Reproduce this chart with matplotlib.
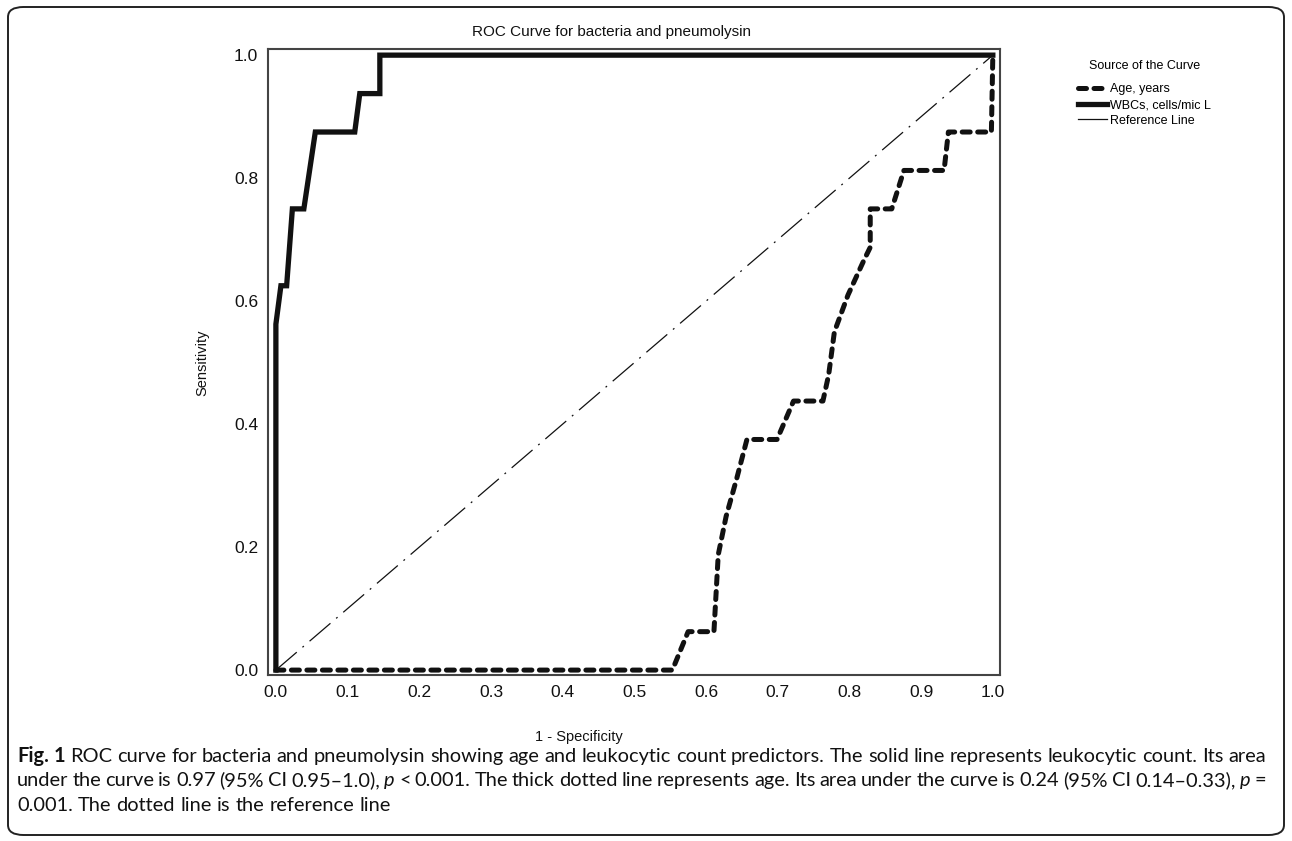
import matplotlib
matplotlib.use("Agg")
import matplotlib.pyplot as plt
from matplotlib.lines import Line2D
from matplotlib.patches import FancyBboxPatch

plt.rcParams['font.family'] = ['Liberation Sans', 'DejaVu Sans']

# WBC curve (1 - specificity, sensitivity)
wbc_x = [0.0, 0.0, 0.007, 0.015, 0.023, 0.039, 0.055, 0.110, 0.117, 0.145, 0.145, 1.0]
wbc_y = [0.0, 0.5625, 0.625, 0.625, 0.75, 0.75, 0.875, 0.875, 0.9375, 0.9375, 1.0, 1.0]

# Age curve
age_x = [0.0, 0.553, 0.575, 0.611, 0.617, 0.628, 0.643, 0.657, 0.699, 0.722, 0.763,
         0.771, 0.779, 0.798, 0.820, 0.829, 0.829, 0.859, 0.876, 0.932, 0.938, 0.998, 1.0]
age_y = [0.0, 0.0, 0.0625, 0.0625, 0.1875, 0.25, 0.3125, 0.375, 0.375, 0.4375, 0.4375,
         0.48, 0.55, 0.61, 0.666, 0.6875, 0.75, 0.75, 0.8125, 0.8125, 0.875, 0.875, 1.0]

ref_x = [0.0, 1.0]
ref_y = [0.0, 1.0]

ticks = [0.0, 0.1, 0.2, 0.3, 0.4, 0.5, 0.6, 0.7, 0.8, 0.9, 1.0]
yticks = [0.0, 0.2, 0.4, 0.6, 0.8, 1.0]

W, H = 1292, 841
fig = plt.figure(figsize=(W / 100, H / 100), dpi=100)

# rounded border round the whole figure
border = FancyBboxPatch((8 / W, 6 / H), 1 - 16 / W, 1 - 13 / H,
                        boxstyle="round,pad=0,rounding_size=0.012",
                        transform=fig.transFigure, fill=False,
                        ec='#222222', lw=1.4)
fig.patches.append(border)

left, right, top, bottom = 268, 1000, 49, 675
ax = fig.add_axes([left / W, 1 - bottom / H, (right - left) / W, (bottom - top) / H])

ax.plot(ref_x, ref_y, color='#111111', lw=0.9, ls=(0, (22, 6, 1.5, 6)))
ax.plot(age_x, age_y, color='#111111', lw=3.6, ls=(0, (1.6, 1.5)),
        dash_capstyle='round', solid_joinstyle='round')
ax.plot(wbc_x, wbc_y, color='#111111', lw=3.8, solid_joinstyle='miter')

ax.set_xlim(-0.011, 1.01)
ax.set_ylim(-0.008, 1.01)
ax.set_xticks(ticks)
ax.set_yticks(yticks)
ax.set_xticklabels([f"{t:.1f}" for t in ticks])
ax.set_yticklabels([f"{t:.1f}" for t in yticks])
ax.tick_params(length=0, labelsize=12.5, pad=7, colors='#111111')
for s in ax.spines.values():
    s.set_color('#444444')
    s.set_linewidth(1.5)

fig.text(579 / W, 1 - 737 / H, "1 - Specificity", ha='center', va='center',
         fontsize=10.5, color='#111111')
fig.text(202 / W, 1 - 363 / H, "Sensitivity", ha='center', va='center',
         rotation=90, fontsize=10.5, color='#111111')
fig.text(612 / W, 1 - 32 / H, "ROC Curve for bacteria and pneumolysin",
         ha='center', va='center', fontsize=11, color='#111111')

handles = [
    Line2D([], [], color='#111111', lw=3.6, ls=(0, (1.6, 1.5)), dash_capstyle='round'),
    Line2D([], [], color='#111111', lw=3.8),
    Line2D([], [], color='#111111', lw=0.9),
]
labels = ["Age, years", "WBCs, cells/mic L", "Reference Line"]
leg = fig.legend(handles, labels, title="Source of the Curve",
                 loc='upper left', bbox_to_anchor=(1067 / W, 1 - 49 / H),
                 frameon=False, fontsize=9, title_fontsize=9,
                 handlelength=2.3, handletextpad=0.2, labelspacing=0.3)
leg._legend_box.align = "center"
leg._legend_box.sep = 8

# caption: lay out word by word so bold / italic parts sit inline and
# the first two lines are justified to the right margin
cap_font = ['Lato', 'Liberation Sans', 'DejaVu Sans']
lines = [
    [("Fig. 1", 'bold', 'normal'),
     ("ROC curve for bacteria and pneumolysin showing age and leukocytic count predictors. "
      "The solid line represents leukocytic count. Its area", 'normal', 'normal')],
    [("under the curve is 0.97 (95% CI 0.95\u20131.0),", 'normal', 'normal'),
     ("p", 'normal', 'italic'),
     ("< 0.001. The thick dotted line represents age. Its area under the curve is 0.24 "
      "(95% CI 0.14\u20130.33),", 'normal', 'normal'),
     ("p", 'normal', 'italic'),
     ("=", 'normal', 'normal')],
    [("0.001. The dotted line is the reference line", 'normal', 'normal')],
]
justify = [True, True, False]
line_base = [762, 786, 811]
x0, x1 = 17, 1266
renderer = fig.canvas.get_renderer()


def word_width(w, wt, st, size):
    t = fig.text(0, 0, w, fontsize=size, fontweight=wt, fontstyle=st, family=cap_font)
    wd = t.get_window_extent(renderer).width
    t.remove()
    return wd


def split_words(segs):
    out = []
    for txt, wt, st in segs:
        for w in txt.split(" "):
            out.append((w, wt, st))
    return out


# pick the size at which the first line fills the width with plain spaces
probe = 13.0
sp = word_width("a a", 'normal', 'normal', probe) - 2 * word_width("a", 'normal', 'normal', probe)
first = split_words(lines[0])
natural = sum(word_width(w, wt, st, probe) for w, wt, st in first) + sp * (len(first) - 1)
cap_size = probe * (x1 - x0) / natural
space = sp * cap_size / probe

for segs, yy, just in zip(lines, line_base, justify):
    words = [(w, wt, st, word_width(w, wt, st, cap_size)) for w, wt, st in split_words(segs)]
    total = sum(w[3] for w in words)
    gap = (x1 - x0 - total) / (len(words) - 1) if just else space
    x = x0
    for w, wt, st, wd in words:
        fig.text(x / W, 1 - yy / H, w, fontsize=cap_size, fontweight=wt,
                 fontstyle=st, family=cap_font, va='baseline', ha='left',
                 color='#111111')
        x += wd + gap

fig.savefig("out.png", dpi=100)
